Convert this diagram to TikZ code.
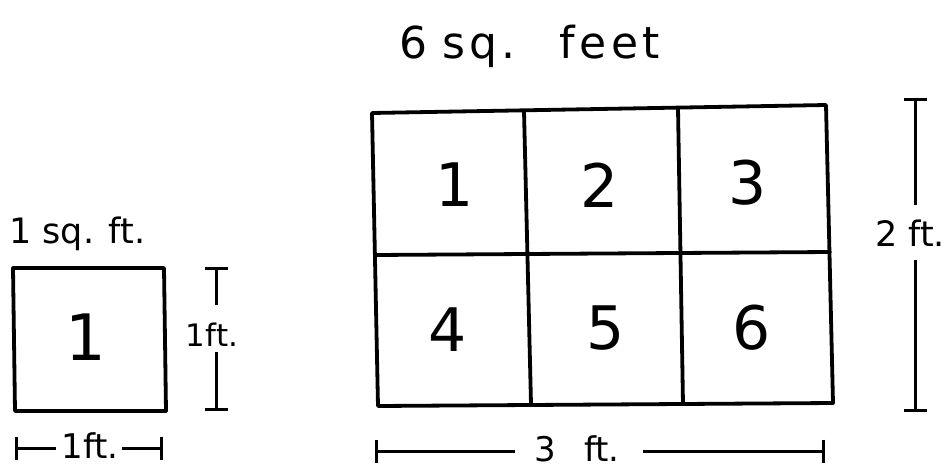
\documentclass[tikz,border=0pt]{standalone}
\usepackage{fontspec}
\setmainfont{DejaVu Sans}
\usetikzlibrary{arrows.meta}
\begin{document}
\begin{tikzpicture}[x=1pt,y=-1pt,
  gridline/.style={line width=3.8pt, line cap=round, line join=round},
  dimline/.style={line width=3pt, -{Bar[width=23pt]}},
  lbl/.style={inner sep=0pt, anchor=center},
  digit/.style={lbl, font=\fontsize{60}{72}\selectfont},
]
\useasboundingbox (0,0) rectangle (951,471);
\fill[white] (0,0) rectangle (951,471);

% ---------- small square ----------
\coordinate (sTL) at (13,268);
\coordinate (sTR) at (164,268);
\coordinate (sBR) at (166,411);
\coordinate (sBL) at (15,411);
\draw[gridline] (sTL) -- (sTR) -- (sBR) -- (sBL) -- cycle;
\node[lbl, font=\fontsize{64}{76}\selectfont] (s1) at (86,337) {1};
\node[lbl, anchor=base west, font=\fontsize{35}{42}\selectfont] (sqft) at (9,243) {1 sq. ft.};

% small vertical dimension
\coordinate (v1t) at (216,267);
\coordinate (v1a) at (216,305);
\coordinate (v1b) at (216,352);
\coordinate (v1bot) at (216,411);
\draw[dimline] (v1a) -- (v1t);
\draw[dimline] (v1b) -- (v1bot);
\node[lbl, font=\fontsize{31}{37}\selectfont] (l1ftv) at (212,335) {1ft.};

% small horizontal dimension
\coordinate (h1l) at (15,448);
\coordinate (h1a) at (56,448);
\coordinate (h1b) at (122,448);
\coordinate (h1r) at (163,448);
\draw[dimline] (h1a) -- (h1l);
\draw[dimline] (h1b) -- (h1r);
\node[lbl, font=\fontsize{34}{40}\selectfont] (l1fth) at (90,446) {1ft.};

% ---------- big rectangle ----------
\node[lbl, anchor=base west, font=\fontsize{44}{52}\selectfont\addfontfeature{LetterSpace=10}] (title) at (399,58)
  {6\hspace{15pt}sq.\hspace{44pt}feet};

\coordinate (TL) at (372,113);
\coordinate (TR) at (826,105);
\coordinate (BR) at (833,403);
\coordinate (BL) at (378,406);
\coordinate (ML) at (375,255);
\coordinate (MR) at (830,252);
\coordinate (V1t) at (524,111);
\coordinate (V1b) at (531,404);
\coordinate (V2t) at (678,108);
\coordinate (V2b) at (683,404);
\draw[gridline] (TL) -- (TR) -- (BR) -- (BL) -- cycle;
\draw[gridline] (ML) -- (MR);
\draw[gridline] (V1t) -- (V1b);
\draw[gridline] (V2t) -- (V2b);

\node[digit] (d1) at (455,185) {1};
\node[digit] (d2) at (600,185) {2};
\node[digit] (d3) at (748,183) {3};
\node[digit] (d4) at (448,330) {4};
\node[digit] (d5) at (606,328) {5};
\node[digit] (d6) at (752,328) {6};

% right vertical dimension
\coordinate (v2t) at (915,98);
\coordinate (v2a) at (915,205);
\coordinate (v2b) at (915,260);
\coordinate (v2bot) at (915,412);
\draw[dimline] (v2a) -- (v2t);
\draw[dimline] (v2b) -- (v2bot);
\node[lbl, font=\fontsize{35}{42}\selectfont] (l2ft) at (910,233) {2 ft.};

% bottom horizontal dimension
\coordinate (h2l) at (375,451);
\coordinate (h2a) at (515,451);
\coordinate (h2b) at (643,451);
\coordinate (h2r) at (825,451);
\draw[dimline] (h2a) -- (h2l);
\draw[dimline] (h2b) -- (h2r);
\node[lbl, font=\fontsize{34}{40}\selectfont] (l3ft) at (577,449) {3\hspace{28pt}ft.};
\end{tikzpicture}
\end{document}
